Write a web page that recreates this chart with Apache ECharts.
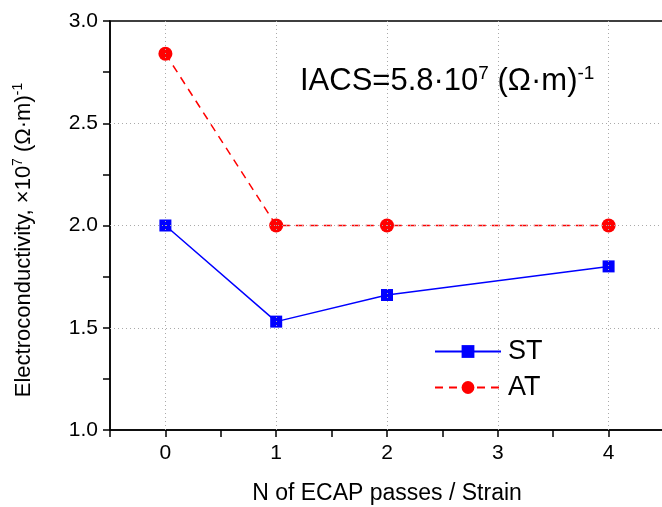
<!DOCTYPE html>
<html><head><meta charset="utf-8">
<script src="https://cdn.jsdelivr.net/npm/echarts@6/dist/echarts.min.js"></script>
<style>html,body{margin:0;padding:0;background:#fff}#c{width:662px;height:507px}</style>
</head><body><div id="c"></div>
<script>
var passes = [0, 1, 2, 4];
var stValues = [2.00, 1.53, 1.66, 1.80];
var atValues = [2.84, 2.00, 2.00, 2.00];
var xTicks = [0, 1, 2, 3, 4];
var yTicks = [1.0, 1.5, 2.0, 2.5, 3.0];

var FONT = 'Liberation Sans';
function pairs(xs, ys){ return xs.map(function(x,i){return [x, ys[i]];}); }

var chart = echarts.init(document.getElementById('c'), null, {renderer:'canvas'});
chart.setOption({
  animation:false,
  backgroundColor:'#fff',
  textStyle:{fontFamily:FONT},
  grid:{left:110, top:21, right:-2, bottom:77, outerBoundsMode:'none', containLabel:false,
    show:true, borderColor:'#000', borderWidth:1.5, backgroundColor:'transparent'},
  xAxis:{
    type:'value', min:-0.5, max:4.5, interval:0.5,
    name:'N of ECAP passes / Strain', nameLocation:'middle', nameGap:52,
    nameTextStyle:{fontSize:23, color:'#000', fontFamily:FONT},
    axisLine:{show:true, onZero:false, lineStyle:{color:'#000', width:1.5}},
    axisTick:{show:true, inside:false, length:7, lineStyle:{color:'#000', width:1.5}},
    axisLabel:{fontSize:21, color:'#000', margin:13, fontFamily:FONT,
      formatter:function(v){ return xTicks.indexOf(v) >= 0 ? String(v) : ''; }},
    splitLine:{show:false}
  },
  yAxis:{
    type:'value', min:1.0, max:3.0, interval:0.25,
    axisLine:{show:true, onZero:false, lineStyle:{color:'#000', width:1.5}},
    axisTick:{show:true, inside:false, length:7, lineStyle:{color:'#000', width:1.5}},
    axisLabel:{fontSize:21, color:'#000', margin:12, fontFamily:FONT,
      formatter:function(v){ var r=Math.round(v*100)/100; return yTicks.indexOf(r) >= 0 ? r.toFixed(1) : ''; }},
    splitLine:{show:false}
  },
  legend:{
    orient:'vertical', left:429, top:333, itemWidth:66, itemHeight:16, itemGap:9,
    textStyle:{fontSize:27, color:'#000', fontFamily:FONT, padding:[0,0,0,2]},
    data:['ST','AT']
  },
  graphic:[{
    type:'text', left:300, top:64,
    style:{
      text:'IACS=5.8·10{sup|7} (Ω·m){sup|-1}',
      fontSize:31, fontFamily:FONT, fill:'#000',
      rich:{sup:{fontSize:19, fontFamily:FONT, fill:'#000', padding:[0,0,16,0]}}
    }
  },{
    type:'text', x:24, y:240, rotation:Math.PI/2,
    style:{
      text:'Electroconductivity, ×10{sup|7} (Ω·m){sup|-1}',
      fontSize:22, fontFamily:FONT, fill:'#000', align:'center', verticalAlign:'middle',
      rich:{sup:{fontSize:14, fontFamily:FONT, fill:'#000', padding:[0,0,11,0]}}
    }
  }],
  series:[
    {name:'ST', type:'line', data:pairs(passes, stValues), symbol:'rect', symbolSize:12,
      itemStyle:{color:'#0000ff'}, lineStyle:{color:'#0000ff', width:1.5, type:'solid'}, z:3},
    {name:'AT', type:'line', data:pairs(passes, atValues), symbol:'circle', symbolSize:14,
      itemStyle:{color:'#ff0000'}, lineStyle:{color:'#ff0000', width:1.5, type:[8,6]}, z:2},
    {name:'grid', type:'line', data:[], silent:true,
      markLine:{silent:true, symbol:'none', label:{show:false},
        lineStyle:{color:'#aaa', width:1, type:[1,3]},
        data: xTicks.map(function(x){return {xAxis:x};}).concat([1.5,2.0,2.5].map(function(y){return {yAxis:y};}))}
    }
  ]
});
</script></body></html>
